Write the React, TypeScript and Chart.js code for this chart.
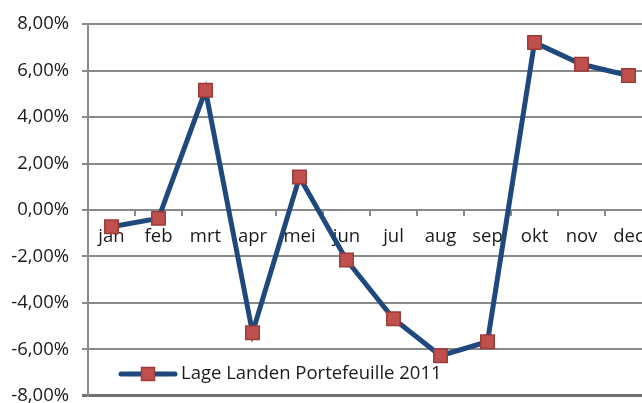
import React, { useEffect, useRef } from "react";
import { Chart, registerables } from "chart.js";

Chart.register(...registerables);

const months = ["jan", "feb", "mrt", "apr", "mei", "jun", "jul", "aug", "sep", "okt", "nov", "dec"];
const portefeuille2011 = [-0.72, -0.36, 5.15, -5.28, 1.42, -2.15, -4.68, -6.27, -5.67, 7.21, 6.27, 5.79];
const seriesName = "Lage Landen Portefeuille 2011";
const yMin = -8;
const yMax = 8;
const yStep = 2;

const FONT = "'Open Sans', sans-serif";
const FONT_SIZE = 18.5;
const LINE_COLOR = "#1F497D";
const MARKER_FILL = "#C0504D";
const MARKER_BORDER = "#9E3A37";
const GRID = "#8a8a8a";

const legendPlugin = {
  id: "excelLegend",
  afterDraw(chart: any) {
    const ctx = chart.ctx;
    const ds = chart.data.datasets[0];
    const y = 374;
    ctx.save();
    ctx.strokeStyle = ds.borderColor;
    ctx.lineWidth = 5;
    ctx.lineCap = "round";
    ctx.beginPath();
    ctx.moveTo(121, y);
    ctx.lineTo(175, y);
    ctx.stroke();
    const s = 13;
    ctx.fillStyle = ds.pointBackgroundColor;
    ctx.strokeStyle = ds.pointBorderColor;
    ctx.lineWidth = 1.5;
    ctx.fillRect(148 - s / 2, y - s / 2, s, s);
    ctx.strokeRect(148 - s / 2, y - s / 2, s, s);
    ctx.fillStyle = "#1a1a1a";
    ctx.font = `${FONT_SIZE}px ${FONT}`;
    ctx.textBaseline = "middle";
    ctx.textAlign = "left";
    ctx.fillText(ds.label, 181, y);
    ctx.restore();
  },
};

export default function App() {
  const ref = useRef<HTMLCanvasElement | null>(null);
  useEffect(() => {
    if (!ref.current) return;
    const chart = new Chart(ref.current, {
      type: "line",
      data: {
        labels: months,
        datasets: [
          {
            label: seriesName,
            data: portefeuille2011,
            borderColor: LINE_COLOR,
            borderWidth: 5,
            tension: 0,
            pointStyle: "rect",
            pointRadius: 9.5,
            pointBackgroundColor: MARKER_FILL,
            pointBorderColor: MARKER_BORDER,
            pointBorderWidth: 1.5,
          },
        ],
      },
      options: {
        responsive: false,
        maintainAspectRatio: false,
        animation: false,
        layout: { padding: { left: 0, top: 24, right: 18, bottom: 23 } },
        plugins: { legend: { display: false }, tooltip: { enabled: false } },
        scales: {
          x: {
            position: { y: 0 } as any,
            offset: true,
            grid: {
              display: true,
              offset: true,
              drawOnChartArea: false,
              drawTicks: true,
              tickLength: 6,
              color: GRID,
              lineWidth: 2,
            },
            border: { display: false },
            ticks: {
              color: "#1a1a1a",
              font: { family: FONT, size: FONT_SIZE },
              padding: 10,
              maxRotation: 0,
              autoSkip: false,
            },
          },
          y: {
            min: yMin,
            max: yMax,
            afterFit(scale: any) {
              scale.width = 88;
            },
            grid: {
              color: (c: any) => (c.tick && c.tick.value === yMin ? "#6f6f6f" : GRID),
              lineWidth: (c: any) => (c.tick && c.tick.value === yMin ? 3 : 2),
              tickLength: 6,
            },
            border: { display: true, color: GRID, width: 2 },
            ticks: {
              stepSize: yStep,
              color: "#1a1a1a",
              font: { family: FONT, size: FONT_SIZE },
              padding: 13,
              callback: (v: any) => `${Number(v).toFixed(2).replace(".", ",")}%`,
            },
          },
        },
      },
      plugins: [legendPlugin],
    });
    return () => chart.destroy();
  }, []);
  return (
    <div style={{ position: "absolute", left: 0, top: 0, width: 670, height: 420, background: "#fff" }}>
      <canvas ref={ref} width={670} height={420} style={{ width: 670, height: 420 }} />
    </div>
  );
}
